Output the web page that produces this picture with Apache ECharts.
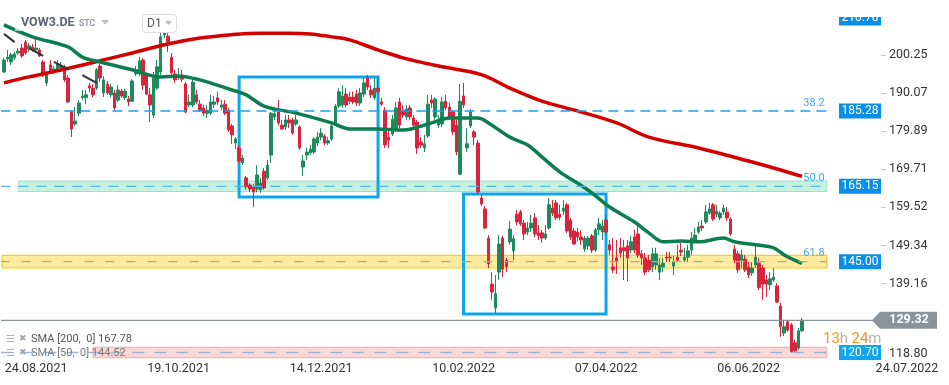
<!DOCTYPE html>
<html><head><meta charset="utf-8">
<script src="https://cdn.jsdelivr.net/npm/echarts@6/dist/echarts.min.js"></script>
<style>html,body{margin:0;padding:0;background:#fff}#c{width:949px;height:385px}</style>
</head><body><div id="c"></div><script>
// ---------- DATA ----------
// daily candles: [open, close, low, high]
const ohlc = [
[195.7,198.9,195.5,199.5],[199.2,199.7,198.4,201.6],[198.4,200.3,197.6,200.8],[199.5,200.5,198.9,201.1],[200.8,201.3,200.3,202.1],
[202.1,200.0,199.5,203.2],[203.7,200.8,200.3,204.3],[201.9,202.7,201.1,203.5],[202.4,201.6,201.1,203.2],[201.6,202.1,201.1,205.1],
[201.6,200.0,199.7,202.1],[198.4,194.9,194.4,198.9],[192.8,195.5,192.0,196.0],[197.6,195.7,195.2,198.9],[195.7,196.5,195.2,197.3],
[196.3,197.9,195.7,198.9],[196.8,197.3,196.3,198.4],[197.1,193.6,193.0,197.6],[194.1,187.7,187.4,194.9],[185.0,180.5,178.3,185.5],
[181.8,182.6,181.3,186.3],[184.7,187.4,183.9,188.2],[188.8,189.3,188.2,190.9],[188.8,189.6,187.1,190.9],[192.0,191.4,190.4,192.8],
[191.4,189.6,189.0,192.5],[191.4,196.3,190.9,196.8],[197.3,194.1,193.0,197.9],[190.1,193.6,189.0,194.6],[192.5,190.1,189.6,193.3],
[189.6,191.7,189.0,192.5],[190.1,186.1,185.5,190.9],[188.2,190.9,187.7,192.2],[190.6,189.3,188.8,191.2],[188.8,190.6,188.2,191.2],
[188.5,187.7,186.6,189.3],[187.9,193.3,187.7,193.8],[195.2,196.0,194.6,197.3],[195.2,198.7,194.6,199.7],[198.9,192.2,190.9,199.5],
[194.9,189.8,189.6,195.5],[189.6,186.9,182.3,191.4],[184.2,194.1,183.4,195.7],[191.4,197.1,190.9,198.9],[195.7,205.1,194.9,206.9],
[205.6,206.4,204.8,207.5],[205.3,203.7,201.1,206.1],[199.7,195.5,194.9,200.8],[195.2,193.6,192.8,196.3],[194.6,194.9,193.6,196.8],
[194.9,193.8,193.0,196.3],[192.5,185.0,184.7,193.0],[186.9,187.7,186.3,189.6],[186.9,193.0,186.3,194.1],[189.6,187.7,187.1,190.9],
[187.1,185.5,185.0,188.2],[186.1,184.7,183.9,186.9],
[184.7,185.5,183.4,186.9],[184.7,187.7,184.2,189.6],[187.1,187.7,186.1,189.3],[188.8,187.7,186.9,190.4],[186.3,186.9,185.5,188.2],
[187.1,184.7,184.2,188.2],[185.5,180.2,179.7,186.1],[181.3,178.9,176.5,181.8],[176.7,177.8,175.1,178.3],[175.4,171.9,171.4,176.2],
[171.4,172.7,170.8,173.5],[167.4,165.0,164.2,167.9],[165.5,164.4,163.6,166.0],[165.0,163.6,159.6,165.8],[164.4,168.2,163.6,170.8],
[164.2,166.0,163.4,167.4],[169.2,164.7,164.2,170.0],[167.4,170.8,166.8,172.2],[173.5,184.7,171.4,185.0],[183.7,184.5,182.9,185.5],
[185.0,182.1,181.5,188.2],[181.5,180.5,180.2,182.9],[181.0,182.9,180.2,184.2],[182.9,182.1,180.7,184.2],[182.9,179.4,178.9,183.4],
[181.8,182.9,181.3,184.2],[181.0,175.4,174.9,181.5],[170.3,171.9,167.9,173.5],[173.5,174.3,172.2,175.4],[174.1,175.1,173.5,176.2],
[174.3,177.8,173.8,178.3],[176.7,178.3,175.9,179.7],[178.3,179.4,177.5,180.7],[178.6,176.7,176.2,179.1],[176.7,177.3,176.2,178.3],
[177.8,181.3,177.3,181.8],[182.1,186.6,181.5,187.1],[186.6,190.4,186.1,191.4],[186.9,189.3,186.1,192.2],[189.8,186.9,186.3,191.4],
[189.0,187.9,187.1,190.4],[189.0,187.7,187.1,190.4],[189.8,187.4,186.6,190.9],[187.4,190.1,186.6,191.4],[189.8,192.8,189.0,194.1],
[194.1,191.7,190.9,194.9],[190.9,189.6,188.8,192.2],[188.8,191.4,188.2,194.1],[191.4,190.4,189.6,194.1],[187.7,187.1,186.6,188.8],
[185.5,176.2,175.4,186.3],[178.3,177.5,175.4,180.2],[179.1,183.1,178.6,184.2],[180.2,186.1,179.7,187.7],[187.7,181.5,180.7,188.8],
[185.5,184.2,183.4,186.9],[183.7,185.8,182.9,186.9],
[186.1,183.7,182.9,186.9],[183.4,181.5,180.7,184.2],[182.3,175.4,173.8,182.9],[177.0,176.2,175.4,178.3],[175.4,176.5,174.3,178.9],
[178.6,187.1,178.1,189.6],[188.2,187.4,186.1,189.6],[183.7,188.5,182.9,189.0],[181.5,182.9,180.7,184.2],[181.8,187.7,181.0,189.0],
[187.9,186.1,185.5,189.6],[186.3,183.4,182.9,187.4],[185.0,179.7,178.9,185.5],[181.5,174.3,173.5,182.9],[168.4,187.9,168.2,192.5],
[189.3,186.9,186.1,192.8],[175.4,176.5,174.3,180.7],[181.3,185.0,180.7,185.8],[179.7,178.3,176.2,180.2],[176.7,163.6,162.8,177.5],
[162.0,160.4,159.9,162.8],[159.1,154.0,153.7,159.9],[151.3,144.4,143.3,152.1],[139.0,136.9,134.8,142.2],[132.6,136.4,131.3,141.4],
[142.2,149.7,140.1,152.1],[151.3,143.0,140.9,151.9],[145.4,143.6,142.2,146.0],[150.3,153.7,149.5,155.9],[147.9,151.1,145.4,152.1],
[157.7,155.6,154.8,158.8],[158.3,155.1,154.5,158.8],[155.3,152.4,150.8,156.1],[152.9,154.0,152.1,155.6],[154.0,155.3,152.9,157.5],
[156.7,152.4,151.6,158.0],[152.7,151.9,150.8,154.8],[152.7,151.3,150.0,153.5],[151.3,152.4,150.8,154.8],[154.0,160.2,153.5,162.0],
[159.3,158.0,157.2,161.5],[160.7,156.7,156.1,161.5],[157.7,156.9,156.1,160.2],[158.5,159.3,157.5,161.5],[160.2,153.2,152.7,160.7],
[156.1,151.6,150.8,156.7],[153.2,149.7,149.5,154.0],[152.9,151.6,150.3,154.0],[151.6,150.8,149.5,153.5],[148.4,151.3,147.6,151.9],
[149.2,151.3,148.1,151.9],[151.9,148.1,147.3,152.4],[148.1,153.5,147.6,154.0],[153.5,155.1,152.1,156.7],[152.9,154.5,150.8,156.1],
[156.1,152.9,152.1,157.5],[149.5,148.1,146.8,150.8],
[143.6,142.8,142.0,151.3],[146.0,144.9,141.7,150.8],[148.7,147.3,146.0,151.3],[148.7,147.9,140.1,150.8],[149.2,146.0,139.8,150.8],
[148.1,150.3,147.3,151.9],[151.6,148.1,147.3,153.5],[152.4,146.8,146.0,154.5],[147.1,146.0,144.1,148.1],[146.0,142.2,141.4,147.3],
[145.4,142.8,142.2,146.8],[143.6,147.1,142.2,148.7],[144.1,147.1,142.8,148.7],[142.2,144.1,140.1,146.0],[143.6,144.6,142.2,146.0],
[146.2,146.0,144.9,147.6],[146.2,146.0,144.9,147.6],[143.8,144.9,141.4,146.5],[146.2,145.4,144.9,149.5],[148.1,147.6,146.5,150.0],
[145.4,146.2,144.9,148.7],[146.2,147.9,144.9,149.5],[148.1,151.3,146.8,152.9],[150.8,152.1,150.3,154.0],[152.9,154.3,152.4,155.6],
[154.5,154.0,153.2,156.1],[155.6,158.3,155.1,160.2],[158.0,159.1,157.5,160.7],[160.2,156.4,155.9,160.7],[157.7,158.5,156.9,160.2],
[156.7,158.0,156.1,158.5],[158.3,159.3,157.5,160.2],[158.3,156.7,155.9,159.6],[156.4,152.4,151.9,156.9],[148.4,145.4,144.6,149.5],
[147.1,142.8,142.0,147.9],[145.4,146.8,143.3,148.1],[145.7,142.8,142.2,146.8],[143.6,141.4,140.6,144.9],[142.0,143.3,141.2,144.9],
[144.1,146.2,143.3,149.5],[144.6,138.0,137.4,146.0],[143.3,139.0,134.8,144.1],[140.1,139.0,135.6,141.4],[138.8,140.4,137.4,142.2],
[140.1,140.9,139.6,143.3],[138.5,134.2,134.0,139.3],[133.1,127.6,124.9,134.0],[125.9,127.6,125.1,129.4],[128.9,126.7,126.2,129.4],
[128.1,121.0,120.7,128.6],[123.3,121.2,120.7,124.1],[121.9,126.5,121.4,127.3],[126.5,129.32,126.2,130.0]
];
// moving averages: [candle index, value]
const sma200 = [[0,192.8],[7,194.4],[13,195.6],[19,196.9],[27,198.7],[36,200.8],[46,203.2],[55,204.8],[64,205.7],[72,206.1],[80,206.1],[86,205.9],[92,205.1],[97,204.3],[105,201.6],[112,199.5],[122,197.3],[134,195.0],[142,191.4],[151,187.9],[161,185.3],[172,182.1],[181,178.3],[195,175.4],[209,171.9],[218,169.5],[224,167.78]];
const sma50 = [[0,208.3],[8,205.1],[18,202.4],[22,199.7],[27,198.4],[36,196.3],[44,194.4],[49,194.6],[55,193.6],[64,190.9],[68,189.6],[73,186.6],[82,184.7],[92,182.1],[97,180.5],[105,180.5],[112,180.2],[120,182.1],[125,183.4],[133,183.4],[136,182.1],[142,178.3],[147,176.2],[151,173.0],[156,169.0],[161,166.0],[165,163.4],[170,159.6],[177,155.6],[181,152.7],[185,150.3],[190,150.5],[195,150.3],[202,151.3],[205,150.3],[211,149.5],[216,148.7],[219,146.8],[224,144.52]];
// drawn trend segments (top-left), [index, price] pairs
const trendSegs = [[[-0.5,205.9],[3.4,203.7]],[[7.0,202.1],[10.9,200.0]],[[14.3,198.4],[18.2,196.5]],[[21.9,194.9],[26.1,192.8]]];
// drawn rectangles: [startIndex, topPrice, endIndex, bottomPrice]
const boxes = [[66,194.4,105,162.3],[129,163.1,169,131.0]];
const xLabelIdx = [9,49,89,129,169,209];
const xLabelText = ['24.08.2021','19.10.2021','14.12.2021','10.02.2022','07.04.2022','06.06.2022'];
const xLastDate = '24.07.2022';
const yTicks = [139.16,149.34,159.52,169.71,179.89,190.07,200.25];
const yBottomLabel = 118.80;
const fibLevels = [185.28,165.15,145.00];
const fibNames = ['38.2','50.0','61.8'];
const supportLevel = 120.70;
const topLevel = 210.70;
const lastPrice = 129.32;
const countdown = ['13','h','24','m'];
const smaLegend = ['SMA [200,  0] 167.78','SMA [50,  0] 144.52'];
const ticker = 'VOW3.DE', tickerType = 'STC', timeframe = 'D1';

// ---------- CHART ----------
const N_CAT = 245, STEP = 3.5625;
const cats = Array.from({length:N_CAT},(_,i)=>{const k=xLabelIdx.indexOf(i);return k>=0?xLabelText[k]:'';});
const FONT = 'Roboto';
const chart = echarts.init(document.getElementById('c'));
const bandHalf = [0, 1.4, 1.7];
const markAreas = [
  [{yAxis:fibLevels[1]+bandHalf[1], xAxis:4, itemStyle:{color:'rgba(160,232,205,0.6)',borderColor:'#9fe0c6',borderWidth:1}},{yAxis:fibLevels[1]-bandHalf[1], xAxis:231}],
  [{yAxis:fibLevels[2]+bandHalf[2], itemStyle:{color:'rgba(253,226,120,0.7)',borderColor:'#f5cf18',borderWidth:1.2}},{yAxis:fibLevels[2]-bandHalf[2], xAxis:231}],
  [{yAxis:supportLevel+1.4, xAxis:25, itemStyle:{color:'rgba(248,190,190,0.6)',borderColor:'#f4a9a9',borderWidth:1}},{yAxis:supportLevel-1.4, xAxis:231}]
].concat(boxes.map(b=>[{xAxis:b[0],yAxis:b[1],itemStyle:{color:'rgba(0,0,0,0)',borderColor:'#0aa6ee',borderWidth:3}},{xAxis:b[2],yAxis:b[3]}]));
const series = [
  {type:'candlestick', data:ohlc, barWidth:3, z:2,
   itemStyle:{color:'#1f8a5b',color0:'#d8243c',borderColor:'#1f8a5b',borderColor0:'#d8243c',borderWidth:1}},
  {type:'line', data:sma200, showSymbol:false, smooth:0.35, z:3, lineStyle:{color:'#d40000',width:3.5}},
  {type:'line', data:sma50, showSymbol:false, smooth:0.35, z:3, lineStyle:{color:'#0b7d4f',width:3.5}}
];
trendSegs.forEach(s=>series.push({type:'line',data:s,showSymbol:false,z:4,lineStyle:{color:'#2f3338',width:2}}));
series.push({type:'line', data:[], z:6, silent:true, markArea:{silent:true, data:markAreas}});
const levelLine = (v,end,color,type,w)=>({type:'line', data:[[-0.6,v],[end,v]], showSymbol:false, z:7, silent:true,
  itemStyle:{color:color}, lineStyle:{color:color,type:type,width:w}});
series.push(levelLine(fibLevels[0],231,'#1d9ff0',[10,6],1.3));
series.push(levelLine(fibLevels[1],231,'#55b6e4',[10,8],1.2));
series.push(levelLine(fibLevels[2],231,'#8fb3a6',[9,12],1.2));
series.push(levelLine(supportLevel,231,'#9eb2d4',[12,10],1.5));
series.push(levelLine(lastPrice,244,'#8a9298','solid',1.2));

chart.setOption({
  animation:false,
  grid:{left:2.2, top:0, width:N_CAT*STEP, height:360},
  xAxis:{type:'category', data:cats, boundaryGap:true, axisLine:{show:false}, axisTick:{show:false},
    axisLabel:{interval:0, color:'#333', fontSize:12.5, margin:2, fontFamily:FONT}, splitLine:{show:false}},
  yAxis:{type:'value', position:'right', min:118.70, max:214.96, offset:6, scale:true,
    axisLine:{show:false}, splitLine:{show:false},
    axisTick:{show:true, length:5, customValues:yTicks, lineStyle:{color:'#c8c8c8'}},
    axisLabel:{customValues:yTicks.concat([yBottomLabel]), margin:8, color:'#333', fontSize:12.5, fontFamily:FONT,
      formatter:v=>Math.abs(v-yBottomLabel)<1e-6?'{b|'+v.toFixed(2)+'}':v.toFixed(2),
      rich:{b:{padding:[0,0,12,0],color:'#333',fontSize:12.5,fontFamily:FONT}}}},
  series:series
});

// ---------- ANNOTATIONS (positions from the scale) ----------
const py = v=>chart.convertToPixel({yAxisIndex:0},v);
const g = [];
// header
g.push({type:'rect',shape:{x:15,y:12,width:100,height:19},style:{fill:'rgba(255,255,255,0.65)'},z:50});
g.push({type:'text',x:21,y:23,style:{text:ticker,font:'bold 12.5px Roboto',fill:'#5b6472',verticalAlign:'middle'},z:51});
g.push({type:'text',x:79,y:24,style:{text:tickerType,font:'bold 8.5px Roboto',fill:'#8d97a5',verticalAlign:'middle'},z:51});
g.push({type:'polygon',shape:{points:[[101,20],[109,20],[105,24.5]]},style:{fill:'#b5bcc5'},z:51});
g.push({type:'rect',shape:{x:142.5,y:14.5,width:34,height:18,r:3},style:{fill:'#fff',stroke:'#dcdcdc',lineWidth:1},z:51});
g.push({type:'text',x:147,y:23.5,style:{text:timeframe,font:'12px Roboto',fill:'#555',verticalAlign:'middle'},z:52});
g.push({type:'polygon',shape:{points:[[165,21],[172,21],[168.5,25]]},style:{fill:'#b5bcc5'},z:52});
// level tags
const tag = (v,fill)=>{const y=py(v);
  g.push({type:'rect',shape:{x:839,y:y-7.5,width:42,height:15},style:{fill:fill},z:40});
  g.push({type:'text',x:860,y:y,style:{text:v.toFixed(2),font:'12px Roboto',fill:'#fff',align:'center',verticalAlign:'middle'},z:41});};
fibLevels.forEach(v=>tag(v,'#0a8fe9'));
tag(supportLevel,'#12a5ef');
{const y=py(topLevel)+2;
 g.push({type:'rect',shape:{x:839,y:y-7.5,width:42,height:15},style:{fill:'#0a8fe9'},z:40});
 g.push({type:'text',x:860,y:y,style:{text:topLevel.toFixed(2),font:'12px Roboto',fill:'#fff',align:'center',verticalAlign:'middle'},z:41});
 g.push({type:'rect',shape:{x:835,y:0,width:50,height:y-1},style:{fill:'#fff'},z:42});}
fibLevels.forEach((v,i)=>g.push({type:'text',x:814,y:py(v)-8,style:{text:fibNames[i],font:'11px Roboto',fill:'#3aa9ef',align:'center',verticalAlign:'middle'},z:41}));
// last price tag
{const y=py(lastPrice);
 g.push({type:'polygon',shape:{points:[[872,y],[880,y-8.5],[937,y-8.5],[937,y+8.5],[880,y+8.5]]},style:{fill:'#8b9399'},z:40});
 g.push({type:'text',x:909,y:y,style:{text:lastPrice.toFixed(2),font:'bold 12.5px Roboto',fill:'#fff',align:'center',verticalAlign:'middle'},z:41});}
// countdown
g.push({type:'text',x:823,y:py(supportLevel)-13,style:{text:'{o|'+countdown[0]+'}{g|'+countdown[1]+'} {o|'+countdown[2]+'}{g|'+countdown[3]+'}',
  verticalAlign:'middle',rich:{o:{fill:'#f7941d',font:'15px Roboto'},g:{fill:'#b3b3b3',font:'15px Roboto'}}},z:41});
// last date
g.push({type:'text',x:907,y:369,style:{text:xLastDate,font:'12.5px Roboto',fill:'#333',align:'center',verticalAlign:'middle'},z:41});
// legend
smaLegend.forEach((t,i)=>{const y=339+i*14;
  g.push({type:'text',x:6,y:y,style:{text:'☰',font:'10px DejaVu Sans',fill:'#a9b0b8',verticalAlign:'middle'},z:30});
  g.push({type:'text',x:19,y:y,style:{text:'✖',font:'9px DejaVu Sans',fill:'#a0a6ad',verticalAlign:'middle'},z:30});
  g.push({type:'text',x:31,y:y,style:{text:t,font:'11px Roboto',fill:i?'#777':'#555',verticalAlign:'middle'},z:30});});
chart.setOption({graphic:{elements:g}});
</script></body></html>
